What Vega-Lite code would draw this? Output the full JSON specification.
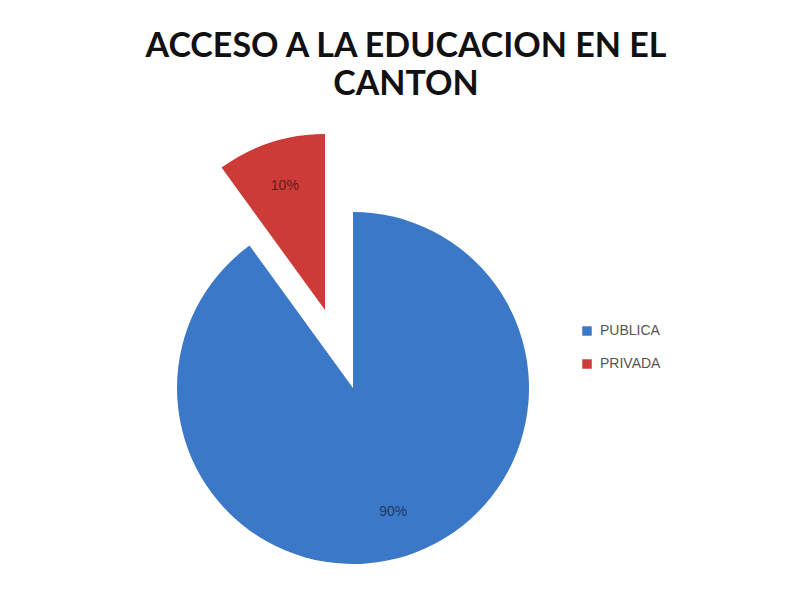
{
  "$schema": "https://vega.github.io/schema/vega-lite/v6.json",
  "autosize": "none",
  "width": 684,
  "height": 406,
  "padding": {"left": 11, "top": 185, "right": 92, "bottom": 0},
  "background": "white",
  "title": {
    "text": ["ACCESO A LA EDUCACION EN EL", "CANTON"],
    "anchor": "middle",
    "frame": "group",
    "dx": 53,
    "offset": 32,
    "font": "Lato",
    "fontWeight": "bold",
    "fontSize": 34,
    "lineHeight": 38,
    "color": "#111111"
  },
  "data": {
    "values": [
      {"tipo": "PUBLICA", "valor": 90, "etiqueta": "90%"},
      {"tipo": "PRIVADA", "valor": 10, "etiqueta": "10%"}
    ]
  },
  "encoding": {
    "theta": {"field": "valor", "type": "quantitative", "stack": true},
    "order": {"field": "valor", "sort": "descending"}
  },
  "layer": [
    {
      "mark": {"type": "arc", "outerRadius": 176},
      "encoding": {
        "color": {
          "field": "tipo",
          "type": "nominal",
          "scale": {"domain": ["PUBLICA", "PRIVADA"], "range": ["#3C78C8", "#CC3B37"]},
          "legend": {
            "title": null,
            "orient": "none",
            "legendX": 569,
            "legendY": 139,
            "symbolType": "square",
            "symbolSize": 90,
            "symbolStrokeWidth": 0,
            "labelFont": "Liberation Sans",
            "labelFontSize": 14,
            "labelColor": "#555555",
            "rowPadding": 19,
            "labelOffset": 6
          }
        },
        "opacity": {"condition": {"test": "datum.tipo === 'PUBLICA'", "value": 1}, "value": 0}
      }
    },
    {
      "mark": {"type": "arc", "outerRadius": 176, "xOffset": -28, "yOffset": -78},
      "encoding": {
        "color": {"field": "tipo", "type": "nominal"},
        "opacity": {"condition": {"test": "datum.tipo === 'PRIVADA'", "value": 1}, "value": 0}
      }
    },
    {
      "mark": {"type": "text", "radius": 130, "font": "Liberation Sans", "fontSize": 14, "color": "#1F3864"},
      "encoding": {
        "text": {"field": "etiqueta"},
        "opacity": {"condition": {"test": "datum.tipo === 'PUBLICA'", "value": 1}, "value": 0}
      }
    },
    {
      "mark": {"type": "text", "radius": 130, "font": "Liberation Sans", "fontSize": 14, "color": "#6B1A1A", "xOffset": -28, "yOffset": -78},
      "encoding": {
        "text": {"field": "etiqueta"},
        "opacity": {"condition": {"test": "datum.tipo === 'PRIVADA'", "value": 1}, "value": 0}
      }
    }
  ],
  "config": {"view": {"stroke": null}}
}
